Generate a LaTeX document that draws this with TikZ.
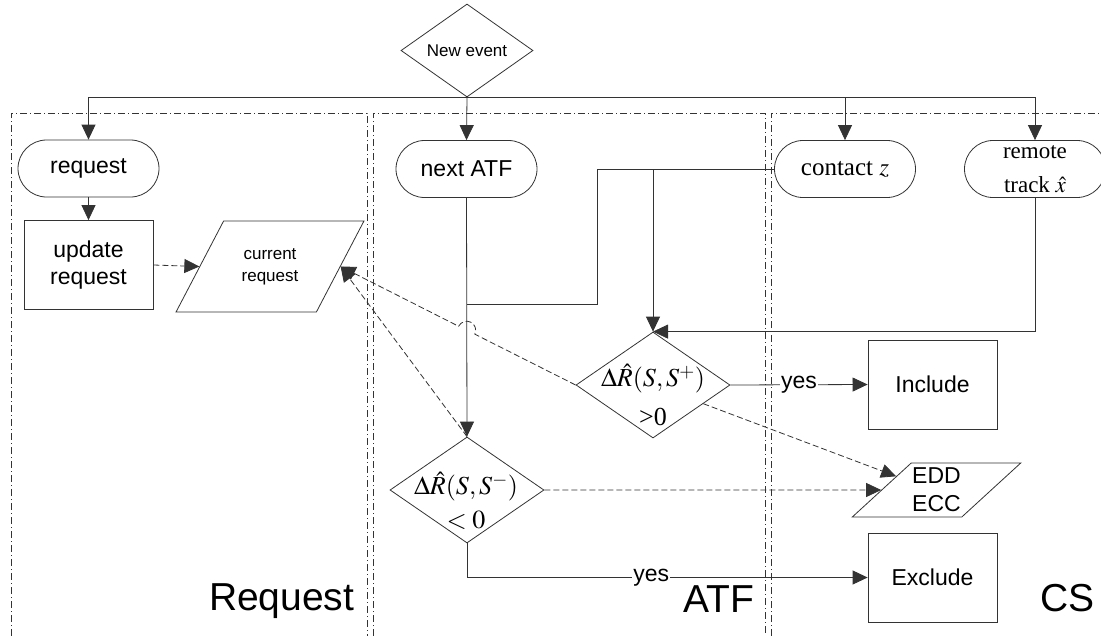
\documentclass[tikz,border=0pt]{standalone}
\usepackage{mathptmx}
\usepackage[no-math]{fontspec}
\setmainfont{Liberation Sans}
\newfontfamily\timesfont{Liberation Serif}
\usetikzlibrary{arrows.meta, calc, shapes.geometric, shapes.misc}

\begin{document}
\begin{tikzpicture}[x=1pt, y=-1pt, line width=0.8pt, draw=black!80,
		every node/.style={font=\fontsize{23}{27}\selectfont, align=center},
		terminal/.style={draw, rounded rectangle, minimum width=143, minimum height=57, inner sep=1pt},
		process/.style={draw, rectangle, minimum width=129, minimum height=89},
		data/.style={draw, trapezium, trapezium stretches=true, inner sep=1pt},
		decision/.style={draw, diamond, minimum width=154, minimum height=106, inner sep=0pt},
		arr/.style={-{Triangle[length=15pt,width=14pt]}},
		dasharr/.style={arr, dash pattern=on 6pt off 3pt},
		lane/.style={line width=0.6pt, dash pattern=on 7pt off 3pt on 1pt off 3pt},
		lanelabel/.style={anchor=base east, font=\fontsize{39}{39}\selectfont}]
		\useasboundingbox (0,0) rectangle (1101,635);

		% swim lanes
		\draw[lane] (11,650) -- (11,113) -- (367,113) -- (367,650);
		\draw[lane] (373,650) -- (373,113) -- (765,113) -- (765,650);
		\draw[lane] (771,650) -- (771,113) -- (1120,113);
		\node[lanelabel] (lreq) at (358,610) {Request};
		\node[lanelabel] (latf) at (758,612) {ATF};
		\node[lanelabel] (lcs) at (1098,611) {CS};

		% nodes
		\node[draw, diamond, minimum width=132, minimum height=93, inner sep=0pt, font=\fontsize{17}{17}\selectfont] (nev) at (467,50.5) {New event};
		\node[terminal] (req) at (88.5,168.5) {request};
		\node[process] (upd) at (88.5,265) {update\\request};
		\node[data, trapezium left angle=52, trapezium right angle=128, minimum width=188, minimum height=91, font=\fontsize{17}{22}\selectfont] (creq) at (270,266.5) {current\\request};
		\node[terminal] (natf) at (466.5,169) {next ATF};
		\node[terminal, font=\timesfont\fontsize{25}{25}\selectfont] (cz) at (845,169) {contact $z$};
		\node[terminal, font=\timesfont\fontsize{23}{34}\selectfont] (rt) at (1035,169) {remote\\track $\hat{x}$};
		\node[decision] (Splus) at (653,385) {};
		\node[font=\timesfont\fontsize{26}{39}\selectfont] (Splustxt) at (653,395) {$\Delta\hat{R}(S,S^{+})$\\{>}0};
		\node[decision] (Sminus) at (467,490) {};
		\node[font=\timesfont\fontsize{26}{34}\selectfont] (Sminustxt) at (466,501) {$\Delta\hat{R}(S,S^{-})$\\$<0$};
		\node[process] (incl) at (932.5,384.5) {Include};
		\node[data, trapezium left angle=38, trapezium right angle=142, minimum width=167, minimum height=54, font=\fontsize{23}{28}\selectfont] (edd) at (936.5,490) {EDD\\ECC};
		\node[process] (excl) at (932.5,577.5) {Exclude};

		% control flow
		\draw[arr] (nev.south) -| (req.north);
		\draw[arr] (nev.south) -- (natf.north);
		\draw[arr] (nev.south) -| (cz.north);
		\draw[arr] (nev.south) -| (rt.north);
		\draw[arr] (req.south) -- (upd.north);
		\coordinate (jog) at (597,304);
		\draw (cz.west) -| (jog) -- (jog -| natf.south);
		\draw[arr] (natf.south) -- (Sminus.north);
		\draw[arr] (cz.west -| Splus.north) -- (Splus.north);
		\draw[arr] (rt.south) |- (Splus.north);
		\draw[arr] (Splus.east) -- node[fill=white, inner sep=1pt] (yesin) {yes} (incl.west);
		\draw[arr] (Sminus.south) |- node[pos=0.73, fill=white, inner sep=1pt] (yesex) {yes} (excl.west);

		% data flow
		\draw[dasharr] (upd.east) -- (creq.west);
		\draw[dasharr] (Sminus.east) -- (edd.west);
		\draw[dasharr] ($(Splus.east)!0.35!(Splus.south)$) -- ($(edd.top left corner)!0.25!(edd.bottom left corner)$);
		\draw[dasharr] (Sminus.north) -- (creq.east);
		\coordinate (hop) at (intersection of Splus.west--creq.east and natf.south--Sminus.north);
		\draw[dasharr] (Splus.west) -- ($(hop)!9pt!(Splus.west)$) arc[start angle=-26, end angle=154, radius=9pt] -- (creq.east);
\end{tikzpicture}
\end{document}
